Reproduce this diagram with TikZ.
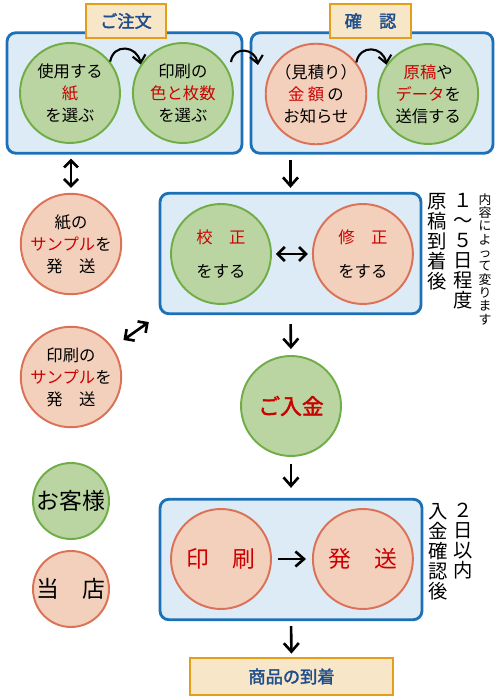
\documentclass[tikz,border=0pt]{standalone}
\usepackage{fontspec}
\setmainfont{Noto Sans CJK JP}[AutoFakeBold=2]
\usetikzlibrary{
    arrows.meta,
    positioning
}
\definecolor{PanelBlue}{RGB}{221,235,247}
\definecolor{PanelEdge}{RGB}{28,112,184}
\definecolor{LeafGreen}{RGB}{186,213,162}
\definecolor{LeafEdge}{RGB}{112,173,71}
\definecolor{PeachFill}{RGB}{242,208,187}
\definecolor{PeachEdge}{RGB}{219,113,86}
\definecolor{TagFill}{RGB}{248,230,201}
\definecolor{TagEdge}{RGB}{229,158,24}
\definecolor{TagInk}{RGB}{31,78,140}
\definecolor{MarkRed}{RGB}{204,0,0}
\tikzset{
  panel/.style = {draw=PanelEdge, fill=PanelBlue, line width=1.6pt,
                  rounded corners=5pt, minimum height=2.41cm},
  tag/.style   = {draw=TagEdge, fill=TagFill, line width=1.6pt, text=TagInk,
                  font=\fontsize{9.8}{12}\selectfont\bfseries},
  arr/.style   = {-{Straight Barb[length=1.7mm,width=3mm]}, line width=1.5pt},
  darr/.style  = {{Straight Barb[length=1.4mm,width=2.8mm]}-{Straight Barb[length=1.4mm,width=2.8mm]},
                  line width=1.5pt},
  carr/.style  = {-{Straight Barb[length=1.5mm,width=2.6mm]}, line width=1.2pt}
}

\begin{document}
\begin{tikzpicture}[
    x=0.02cm, y=0.02cm,
    gcirc/.style={circle, draw=LeafEdge, fill=LeafGreen, line width=1.1pt,
                  minimum size=2cm, inner sep=0pt, align=center,
                  font=\fontsize{9.3}{12.5}\selectfont},
    pcirc/.style={gcirc, draw=PeachEdge, fill=PeachFill},
    vcol/.style={inner sep=0pt, align=center, anchor=north,
                 font=\fontsize{11}{11.4}\selectfont},
    node distance=0.5cm and 0.8cm
]
\useasboundingbox (0,0) rectangle (500,700);

\node[panel, minimum width=4.7cm] (order) at (124.5,607) {};
\node[panel, minimum width=4.84cm] (check) at (372,607) {};
\node[tag, minimum width=1.6cm, minimum height=0.68cm] (ordertag) at (126,679) {ご注文};
\node[tag, minimum width=1.62cm, minimum height=0.68cm] (checktag) at (370.5,679) {確　認};

\node[gcirc] (paper) at (70,607) {使用する\\\textcolor{MarkRed}{紙}\\を選ぶ};
\node[gcirc, right=0.22cm of paper] (color) {印刷の\\\textcolor{MarkRed}{色と枚数}\\を選ぶ};
\node[pcirc] (quote) at (316,606) {（見積り）\\\textcolor{MarkRed}{金\hspace{0.2em}額}\hspace{0.2em}の\\お知らせ};
\node[gcirc, right=0.2cm of quote] (data) {\textcolor{MarkRed}{原稿}や\\\textcolor{MarkRed}{データ}を\\送信する};

\coordinate (hop1) at (231,638);
\coordinate (hop2) at (258,635);
\draw[carr] (paper.38) to[out=80, in=100, looseness=1.6] (color.146);
\draw[carr] (hop1) to[out=80, in=100, looseness=1.6] (hop2);
\draw[carr] (quote.38) to[out=80, in=100, looseness=1.6] (data.145);

\node[pcirc] (paperSample) at (71,456) {紙の\\\textcolor{MarkRed}{サンプル}を\\発　送};
\node[pcirc] (printSample) at (71,323) {印刷の\\\textcolor{MarkRed}{サンプル}を\\発　送};

\node[panel, minimum width=5.22cm] (proof) at (290.5,446.5) {};
\node[gcirc] (kosei) at (221,446) {\textcolor{MarkRed}{校　正}\\[7pt]をする};
\node[pcirc, right=of kosei] (shusei) {\textcolor{MarkRed}{修　正}\\[7pt]をする};

\node[vcol] (termA) at (437,507) {原\\稿\\到\\着\\後};
\node[vcol] (termB) at (463,507) {１\\～\\５\\日\\程\\度};
\node[vcol, font=\fontsize{7.3}{7.6}\selectfont] (termNote) at (485,507)
    {内\\容\\に\\よ\\っ\\て\\変\\り\\ま\\す};

\node[gcirc, text=MarkRed, font=\fontsize{12.4}{14}\selectfont\bfseries] (pay) at (291,294) {ご入金};

\node[gcirc, minimum size=1.52cm, font=\fontsize{13}{14}\selectfont] (guest) at (71,199) {お客様};
\node[pcirc, minimum size=1.52cm, font=\fontsize{13}{14}\selectfont] (shop) at (71,111) {当　店};

\node[panel, minimum width=5.24cm] (ship) at (291,140.5) {};
\node[pcirc, text=MarkRed, font=\fontsize{13}{15}\selectfont] (print) at (221,141) {印　刷};
\node[pcirc, text=MarkRed, font=\fontsize{13}{15}\selectfont, right=of print] (send) {発　送};

\node[vcol] (termC) at (438,197) {入\\金\\確\\認\\後};
\node[vcol] (termD) at (463,197) {２\\日\\以\\内};

\node[tag, minimum width=4.06cm, minimum height=0.74cm] (arrive) at (291.5,23.5) {商品の到着};

\draw[darr, shorten <=0.08cm, shorten >=0.1cm] (order.south -| paperSample.north) -- (paperSample.north);
\draw[arr, shorten <=0.1cm, shorten >=0.08cm] (proof.north |- check.south) -- (proof.north);
\draw[darr, shorten <=0.08cm, shorten >=0.08cm] (kosei) -- (shusei);
\draw[darr, shorten <=0.24cm, shorten >=0.26cm] (proof.south west) -- (printSample);
\draw[arr, shorten <=0.18cm, shorten >=0.12cm] (proof.south) -- (pay.north);
\draw[arr, shorten <=0.14cm, shorten >=0.2cm] (pay.south) -- (ship.north);
\draw[arr, shorten <=0.12cm, shorten >=0.12cm] (print) -- (send);
\draw[arr, shorten <=0.1cm, shorten >=0.06cm] (ship.south) -- (arrive.north);
\end{tikzpicture}
\end{document}
